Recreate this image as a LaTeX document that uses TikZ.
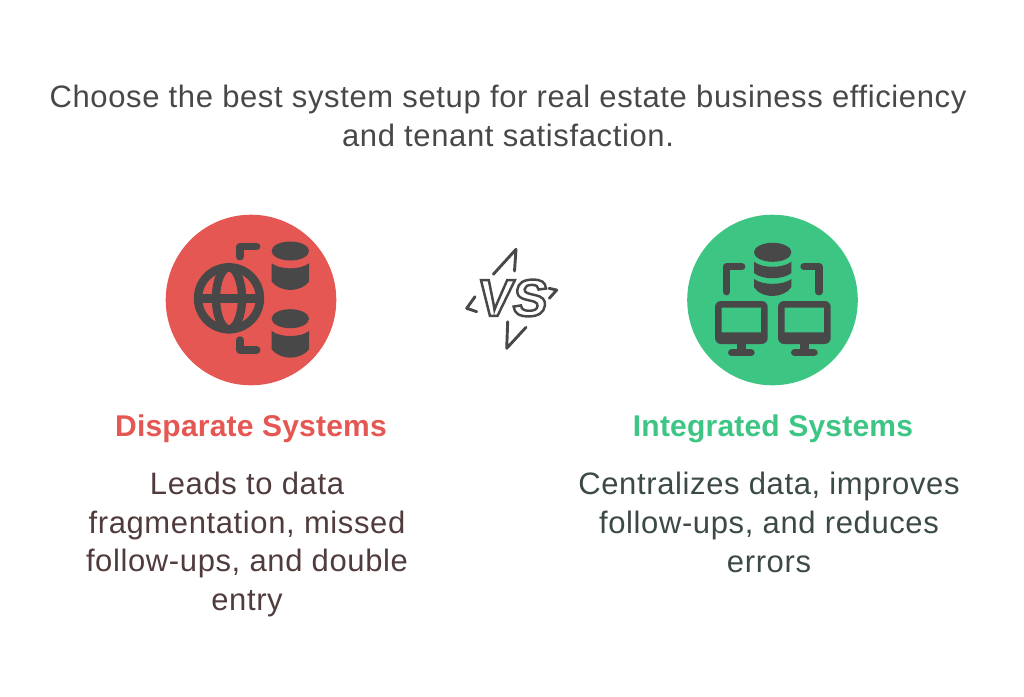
\documentclass[tikz,border=0pt]{standalone}
\usepackage{fontspec}
\usepackage{xcolor}
\setmainfont{Liberation Sans}[LetterSpace=2]
\newfontface\namefont{Liberation Sans Bold}[LetterSpace=0.7]
\newfontface\vsfont{Liberation Sans Bold}[FakeBold=4.7, FakeSlant=0.12]
\definecolor{Ink}{HTML}{484848}
\definecolor{RedFill}{HTML}{E55753}
\definecolor{GreenFill}{HTML}{3CC583}
\definecolor{RedText}{HTML}{503C3C}
\definecolor{GreenText}{HTML}{3C4A44}
\tikzset{
	heading/.style={font=\namefont\fontsize{30}{38.5}\selectfont, anchor=center},
	bodytext/.style={font=\fontsize{31}{38.6}\selectfont, align=center, anchor=center},
	iconline/.style={Ink, line width=7.4, line cap=round, line join=round},
	boltline/.style={Ink, line width=2.9, line cap=round, line join=round}
}
\newcommand{\dbtop}[2]{\fill[Ink] (#1,#2) ellipse (18.7 and 9.5);}
\begin{document}
\begin{tikzpicture}[x=1pt, y=-1pt]
	\useasboundingbox (0,0) rectangle (1024,696);

	\node[Ink, bodytext] (title) at (508,116) {Choose the best system setup for real estate business efficiency\\and tenant satisfaction.};

	% left circle
	\fill[RedFill] (251,300) circle(85.3);
	\draw[Ink, line width=8.4] (229,298.3) circle(31);
	\draw[Ink, line width=8.4] (229,298.3) ellipse (13 and 31);
	\draw[Ink, line width=8.4] (198,298.3) -- (260,298.3);
	\draw[iconline] (240,256.7) -- (240,246.7) -- (256.7,246.7);
	\draw[iconline] (240,340) -- (240,350) -- (256.7,350);
	\foreach \dy in {0,67.7} {
		\dbtop{290.3}{251+\dy}
		\fill[Ink] (271.7,263.3+\dy) .. controls (280,270+\dy) and (300.6,270+\dy) .. (309,263.3+\dy) -- (309,281.7+\dy) .. controls (305,287+\dy) and (297,290+\dy) .. (290.3,290+\dy) .. controls (283.6,290+\dy) and (275.7,287+\dy) .. (271.7,281.7+\dy) -- cycle;
	}
	\node[RedFill, heading] (leftname) at (251,429) {Disparate Systems};
	\node[RedText, bodytext] (leftbody) at (247,544.5) {Leads to data\\fragmentation, missed\\follow-ups, and double\\entry};

	% vs mark
	\node[font=\vsfont\fontsize{52}{52}\selectfont, anchor=center] (vs) at (511,298) {\color{white}\special{pdf:code 0.282 0.282 0.282 RG}VS};
	\draw[boltline] (493.3,274.3) -- (516,249.3) -- (514.5,271);
	\draw[boltline] (475,296.7) -- (466.7,308.3) -- (476.7,311.7);
	\draw[boltline] (549,288.3) -- (556.7,290) -- (549.3,298.3);
	\draw[boltline] (507.7,321.7) -- (506.7,348.3) -- (526,327.3);

	% right circle
	\fill[GreenFill] (772.5,300) circle(85.3);
	\dbtop{772.7}{252.3}
	\fill[Ink] (754,261.7) .. controls (762,268.5) and (783,268.5) .. (791.4,261.7) -- (791.4,273) .. controls (783,280) and (762,280) .. (754,273) -- cycle;
	\fill[Ink] (754,279) .. controls (762,285.5) and (783,285.5) .. (791.4,279) -- (791.4,287) .. controls (788,292.5) and (780,296) .. (772.7,296) .. controls (765,296) and (757,292.5) .. (754,287) -- cycle;
	\draw[iconline] (726.7,291.7) -- (726.7,266.7) -- (741.7,266.7);
	\draw[iconline] (819,291.7) -- (819,266.7) -- (804,266.7);
	\foreach \dx in {0,63} {
		\fill[Ink, even odd rule, rounded corners=6] (715+\dx,301) rectangle (767.7+\dx,344) [sharp corners] (721.7+\dx,307.7) rectangle (761+\dx,332.3);
		\draw[Ink, line width=8.7] (741.3+\dx,344) -- (741.3+\dx,352);
		\draw[iconline] (731.7+\dx,352.7) -- (751+\dx,352.7);
	}
	\node[GreenFill, heading] (rightname) at (773,429) {Integrated Systems};
	\node[GreenText, bodytext] (rightbody) at (769,522.5) {Centralizes data, improves\\follow-ups, and reduces\\errors};
\end{tikzpicture}
\end{document}
